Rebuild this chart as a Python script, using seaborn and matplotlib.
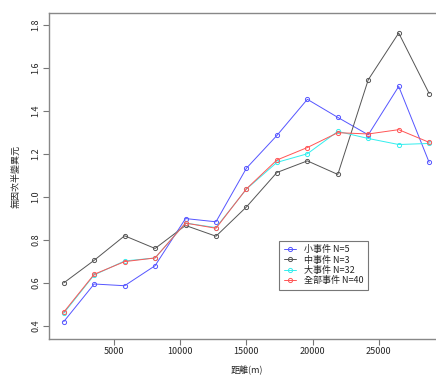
import pandas as pd
import matplotlib
matplotlib.use("Agg")
import matplotlib.pyplot as plt
import seaborn as sns

# distance (m) and semivariance values
distance = [1200, 3500, 5800, 8100, 10400, 12700, 15000, 17300, 19600, 21900, 24200, 26500, 28800]
small = [0.42, 0.595, 0.587, 0.68, 0.899, 0.884, 1.133, 1.285, 1.453, 1.369, 1.288, 1.513, 1.16]
medium = [0.60, 0.705, 0.819, 0.76, 0.867, 0.817, 0.953, 1.113, 1.167, 1.104, 1.544, 1.761, 1.48]
large = [0.459, 0.637, 0.702, 0.716, 0.878, 0.857, 1.036, 1.16, 1.20, 1.304, 1.271, 1.243, 1.248]
total = [0.464, 0.64, 0.699, 0.716, 0.878, 0.854, 1.037, 1.171, 1.229, 1.298, 1.292, 1.312, 1.253]
series_names = ["小事件 N=5", "中事件 N=3", "大事件 N=32", "全部事件 N=40"]
colors = ["#5555ff", "#555555", "#33eeee", "#ff5555"]

df = pd.concat([
    pd.DataFrame({"dist": distance, "val": vals, "group": name})
    for name, vals in zip(series_names, [small, medium, large, total])
])

sns.set_style("white")
plt.rcParams['font.family'] = ['Noto Sans CJK TC', 'DejaVu Sans']

fig = plt.figure(figsize=(4.36, 3.78), dpi=100)
ax = fig.add_axes([49 / 436, 39 / 378, (444 - 49) / 436, (339 - 13) / 378])

sns.lineplot(data=df, x="dist", y="val", hue="group", hue_order=series_names,
             palette=colors, marker="o", markersize=3, markerfacecolor="none",
             markeredgewidth=0.7, linewidth=0.7, ax=ax)
for line, c in zip(ax.lines, colors):
    line.set_markeredgecolor(c)

ax.set_xlim(90, 29920)
ax.set_ylim(0.3395, 1.854)
ax.set_xticks([5000, 10000, 15000, 20000, 25000])
ax.set_yticks([0.4, 0.6, 0.8, 1.0, 1.2, 1.4, 1.6, 1.8])
ax.set_yticklabels(["0.4", "0.6", "0.8", "1.0", "1.2", "1.4", "1.6", "1.8"],
                   rotation=90, va="center")
ax.tick_params(axis="both", direction="out", length=4, width=0.8, color="#777777",
               labelsize=6.5, pad=2, bottom=True, left=True)
for s in ["left", "bottom", "top"]:
    ax.spines[s].set_color("#888888")
    ax.spines[s].set_linewidth(1.0)
ax.spines["right"].set_visible(False)

ax.set_xlabel("距離(m)", fontsize=6.5, labelpad=7)
ax.set_ylabel("無因次半變異元", fontsize=6.5, labelpad=8)

leg = ax.legend(loc="upper left", bbox_to_anchor=(0.583, 0.3015), borderaxespad=0,
                fontsize=6.5, frameon=True, fancybox=False, edgecolor="#555555",
                handlelength=1.4, handletextpad=0.8, labelspacing=0.15, borderpad=0.5)
leg.get_frame().set_linewidth(0.8)
for h, c in zip(leg.legend_handles, colors):
    h.set_markeredgecolor(c)
    h.set_markerfacecolor("none")

fig.savefig("out.png", dpi=100)
